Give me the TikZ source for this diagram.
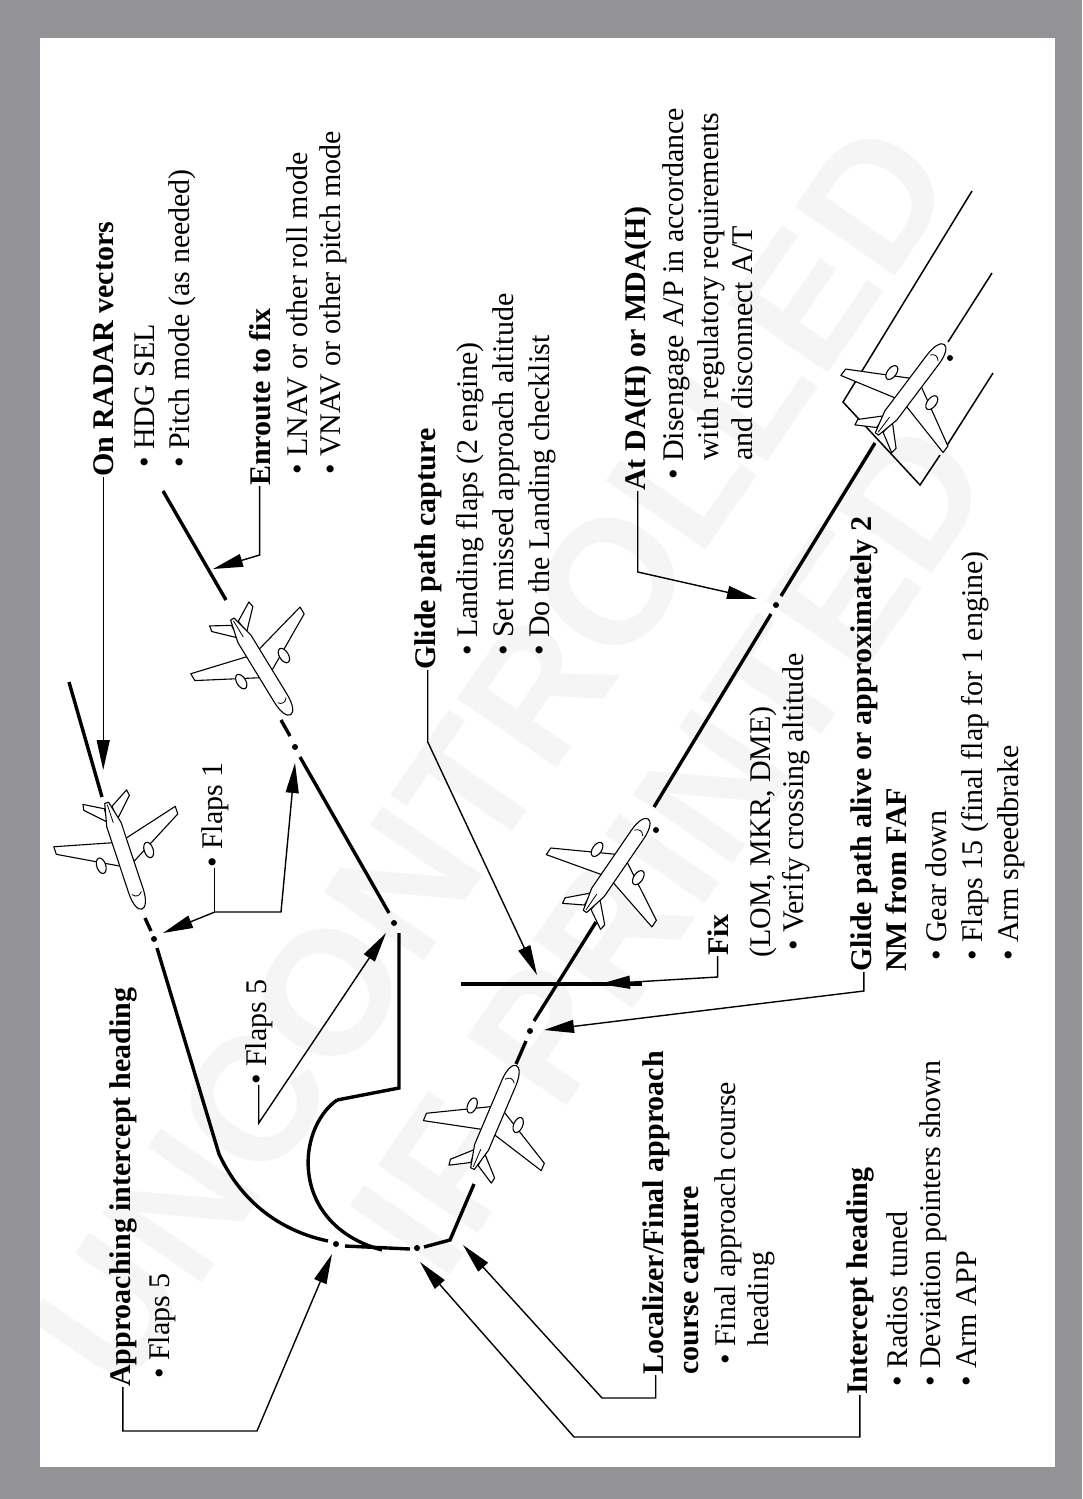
\documentclass[tikz,border=0pt]{standalone}
\usepackage{fontspec}
\setmainfont{Liberation Serif}
\newfontfamily\wmfont{Liberation Sans}
\usetikzlibrary{arrows.meta}
\definecolor{framegray}{RGB}{146,146,151}
\definecolor{wmgray}{RGB}{245,245,245}
\tikzset{
  plane/.pic={
    \begin{scope}[line width=1.1pt, line join=round, fill=white]
      \filldraw (-36,5) -- (-55,24) -- (-61,23) -- (-50,4) -- cycle;
      \filldraw (-36,-5) -- (-55,-24) -- (-61,-23) -- (-50,-4) -- cycle;
      \filldraw (10,6) -- (-22,64) -- (-30,64) -- (-15,6) -- cycle;
      \filldraw (10,-6) -- (-22,-64) -- (-30,-64) -- (-15,-6) -- cycle;
      \filldraw (3,25) ellipse [x radius=8pt, y radius=4.5pt];
      \filldraw (3,-25) ellipse [x radius=8pt, y radius=4.5pt];
      \filldraw (-55,-2) -- (-32,-7.5) -- (38,-7.5) .. controls (50,-7.5) and (57,-4) .. (57,0)
                .. controls (57,4) and (50,7.5) .. (38,7.5) -- (-32,7.5) -- (-55,2) -- cycle;
      \draw[line width=0.8pt] (-34,0) -- (-53,0);
      \draw[line width=0.8pt] (40,-5) .. controls (44,-2) and (44,2) .. (40,5);
    \end{scope}
  }
}
\begin{document}
\begin{tikzpicture}[x=1pt,y=-1pt,
  lbl/.style={rotate=90,anchor=base west,inner sep=0pt,font=\fontsize{30}{36}\selectfont},
  hd/.style={rotate=90,anchor=base west,inner sep=0pt,font=\fontsize{30}{36}\selectfont\bfseries},
  leader/.style={line width=1.4pt},
  arr/.style={-{Triangle[length=30pt,width=13pt]}},
  route/.style={line width=3.4pt},
  rwy/.style={line width=1.5pt},
  wp/.style={circle,fill=black,inner sep=0pt,minimum size=6pt}]
\useasboundingbox (0,0) rectangle (1082,1499);
\fill[framegray] (0,0) rectangle (1082,1499);
\fill[white] (40,38) rectangle (1055,1467);

% watermark
\begin{scope}
  \clip (40,38) rectangle (1055,1467);
  \node[text=wmgray, font=\wmfont\bfseries\fontsize{176}{200}\selectfont, rotate=55.5] (wm1) at (492,755) {UNCONTROLLED};
  \node[text=wmgray, font=\wmfont\bfseries\fontsize{176}{200}\selectfont, rotate=55.5] (wm2) at (671,847) {IF PRINTED};
\end{scope}

% runway
\draw[rwy] (972,191) -- (843,402) -- (920,485) -- (940,455);
\draw[rwy] (992,273) -- (948,342);
\draw[rwy] (993,373) -- (946,447);

% route
\draw[route] (69,682) -- (102,797);
\draw[route] (145,918) -- (151,931);
\draw[route] (157,948) -- (219,1154) .. controls (245,1210) and (290,1233) .. (328,1241);
\draw[route] (345,1246) -- (410,1249);
\draw[route] (337,1100) .. controls (295,1130) and (290,1225) .. (382,1250);
\draw[route] (424,1247) -- (450,1240) -- (474,1184);
\draw[route] (399,933) -- (399,1088) -- (337,1100);
\draw[route] (163,491) -- (226,600);
\draw[route] (281,720) -- (290,736);
\draw[route] (300,757) -- (389,913);
\draw[route] (516,1064) -- (526,1041);
\draw[route] (534,1021) -- (596,922);
\draw[route] (654,807) -- (771,614);
\draw[route] (781,596) -- (875,443);
\draw[line width=4pt] (461,984) -- (642,984);

% airplanes
\pic[rotate=-71.6] (pl1) at (124,855) {plane};
\pic[rotate=-58.6] (pl2) at (261,666) {plane};
\pic[rotate=55.6] (pl3) at (616,866) {plane};
\pic[rotate=67] (pl4) at (494,1118) {plane};
\pic[rotate=53] (pl5) at (910,390) {plane};

% waypoints
\node[wp] (d1) at (154,939) {};
\node[wp] (d2) at (336,1244) {};
\node[wp] (d3) at (417,1248) {};
\node[wp] (d4) at (394,923) {};
\node[wp] (d5) at (295,747) {};
\node[wp] (d6) at (530,1031) {};
\node[wp] (d7) at (656,830) {};
\node[wp] (d8) at (776,605) {};
\node[wp] (d9) at (950,358) {};

% texts
\node[hd] (tRAD) at (113,477) {On RADAR vectors};
\node[lbl] (tRAD1) at (154,468) {• HDG SEL};
\node[lbl] (tRAD2) at (189,468) {• Pitch mode (as needed)};

\node[hd] (tEN) at (270,486) {Enroute to fix};
\node[lbl] (tEN1) at (307,475) {• LNAV or other roll mode};
\node[lbl] (tEN2) at (340,475) {• VNAV or other pitch mode};

\node[hd] (tGPC) at (435,670) {Glide path capture};
\node[lbl] (tGPC1) at (477,656) {• Landing flaps (2 engine)};
\node[lbl] (tGPC2) at (513,656) {• Set missed approach altitude};
\node[lbl] (tGPC3) at (549,656) {• Do the Landing checklist};

\node[hd] (tDA) at (645,491) {At DA(H) or MDA(H)};
\node[lbl] (tDA1) at (683,480) {• Disengage A/P in accordance};
\node[lbl] (tDA2) at (718,461) {with regulatory requirements};
\node[lbl] (tDA3) at (752,461) {and disconnect A/T};

\node[hd] (tFIX) at (728,956) {Fix};
\node[lbl] (tFIX1) at (770,958) {(LOM, MKR, DME)};
\node[lbl] (tFIX2) at (803,951) {• Verify crossing altitude};

\node[hd] (tGPA) at (871,972) {Glide path alive or approximately 2};
\node[hd] (tGPA0) at (906,972) {NM from FAF};
\node[lbl] (tGPA1) at (946,961) {• Gear down};
\node[lbl] (tGPA2) at (982,961) {• Flaps 15 (final flap for 1 engine)};
\node[lbl] (tGPA3) at (1018,961) {• Arm speedbrake};

\node[hd] (tLOC) at (663,1375) {Localizer/Final approach};
\node[hd] (tLOC0) at (698,1375) {course capture};
\node[lbl] (tLOC1) at (735,1365) {• Final approach course};
\node[lbl] (tLOC2) at (768,1347) {heading};

\node[hd] (tINT) at (867,1395) {Intercept heading};
\node[lbl] (tINT1) at (907,1387) {• Radios tuned};
\node[lbl] (tINT2) at (940,1387) {• Deviation pointers shown};
\node[lbl] (tINT3) at (976,1387) {• Arm APP};

\node[hd] (tAPP) at (130,1387) {Approaching intercept heading};
\node[lbl] (tAPP1) at (169,1379) {• Flaps 5};

\node[lbl] (tF1) at (222,868) {• Flaps 1};
\node[lbl] (tF5) at (266,1085) {• Flaps 5};

% leader coordinates
\coordinate (aRAD) at (103,770);
\coordinate (bEN) at (260,555);   \coordinate (aEN) at (213,569);
\coordinate (bGPC) at (427,742);  \coordinate (aGPC) at (537,975);
\coordinate (bDA) at (635,572);   \coordinate (aDA) at (757,599);
\coordinate (bFIX) at (718,977);  \coordinate (aFIX) at (600,984);
\coordinate (bGPA) at (862,991);  \coordinate (aGPA) at (544,1030);
\coordinate (bLOC) at (602,1398); \coordinate (aLOC) at (463,1245);
\coordinate (bINT) at (574,1437); \coordinate (aINT) at (420,1262);
\coordinate (bAPP) at (257,1431); \coordinate (aAPP) at (332,1254);
\coordinate (bF1) at (281,912);   \coordinate (aF1a) at (163,933); \coordinate (aF1b) at (295,763);
\coordinate (bF5) at (256,1123);  \coordinate (aF5) at (386,933);

% leaders
\draw[leader,arr] (tRAD.west) -- (tRAD.west |- aRAD);
\draw[leader,arr] (tEN.west) -- (tEN.west |- bEN) -- (aEN);
\draw[leader,arr] (tGPC.west) -- (tGPC.west |- bGPC) -- (aGPC);
\draw[leader,arr] (tDA.west) -- (tDA.west |- bDA) -- (aDA);
\draw[leader,arr] (tFIX.west) -- (tFIX.west |- bFIX) -- (aFIX);
\draw[leader,arr] (tGPA.west) -- (tGPA.west |- bGPA) -- (aGPA);
\draw[leader,arr] (tLOC.west) -- (tLOC.west |- bLOC) -- (bLOC) -- (aLOC);
\draw[leader,arr] (tINT.west) -- (tINT.west |- bINT) -- (bINT) -- (aINT);
\draw[leader,arr] (tAPP.west) -- (tAPP.west |- bAPP) -- (bAPP) -- (aAPP);
\draw[leader] (tF1.west) -- (tF1.west |- bF1) coordinate (jF1);
\draw[leader,arr] (jF1) -- (aF1a);
\draw[leader,arr] (jF1) -- (bF1) -- (aF1b);
\draw[leader,arr] (tF5.west) -- (tF5.west |- bF5) -- (aF5);
\end{tikzpicture}
\end{document}
